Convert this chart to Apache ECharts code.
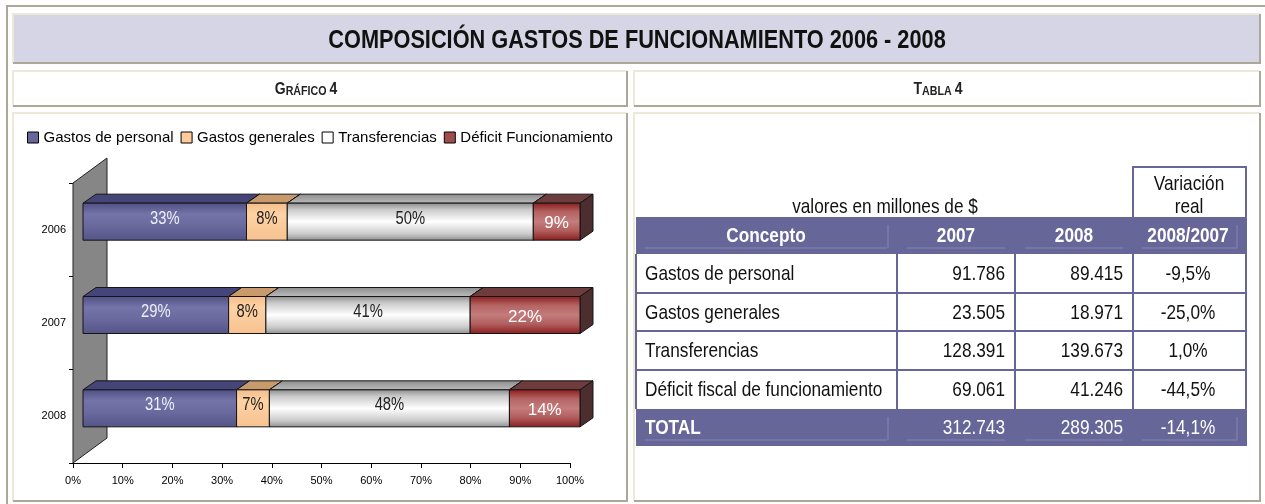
<!DOCTYPE html>
<html>
<head>
<meta charset="utf-8">
<title>Composición gastos de funcionamiento 2006 - 2008</title>
<script src="https://cdn.jsdelivr.net/npm/echarts@6.0.0/dist/echarts.min.js"></script>
<style>
  html, body { margin: 0; padding: 0; background: #fff; }
  #main { width: 1265px; height: 504px; }
</style>
</head>
<body>
<div id="main"></div>
<script>
// Gráfico 4: participación (%) de cada concepto por año
const years = ['2006', '2007', '2008']
const personal = [32.9, 29.3, 30.9]
const generales = [8.2, 7.5, 6.6]
const transferencias = [49.5, 41.1, 48.3]
const deficit = [9.4, 22.1, 14.2]
const seriesNames = ['Gastos de personal', 'Gastos generales', 'Transferencias', 'Déficit Funcionamiento']

// Tabla 4: valores en millones de $
const conceptos = ['Gastos de personal', 'Gastos generales', 'Transferencias', 'Déficit fiscal de funcionamiento']
const valores2007 = [91786, 23505, 128391, 69061]
const valores2008 = [89415, 18971, 139673, 41246]
const variacion = [-9.5, -25.0, 1.0, -44.5]
const total2007 = 312743
const total2008 = 289305
const totalVariacion = -14.1

// no hay Arial Narrow: se usa Liberation Sans comprimida horizontalmente
const SANS = "'Liberation Sans', Arial, sans-serif"
const NARROW_SCALE = 0.82
const PURPLE = '#666699'

const shares = [personal, generales, transferencias, deficit]

function grad(stops) {
  return new echarts.graphic.LinearGradient(0, 0, 0, 1, stops.map(c => ({ offset: c[0], color: c[1] })))
}

const looks = [
  {
    legend: '#666699',
    front: [[0, '#4f4f84'], [0.3, '#7474a8'], [0.6, '#6a6a9e'], [1, '#545487']],
    top: '#45457a', side: '#3a3a60', label: '#eeeefa', narrow: true, size: 18, dy: -3
  },
  {
    legend: '#ffcc99',
    front: [[0, '#f2bd8a'], [0.3, '#ffd2a4'], [1, '#f6c290']],
    top: '#c89a6c', side: '#a87c55', label: '#222', narrow: true, size: 18, dy: -3
  },
  {
    legend: '#ffffff',
    front: [[0, '#8a8a8a'], [0.18, '#c9c9c9'], [0.5, '#ffffff'], [0.82, '#cbcbcb'], [1, '#8e8e8e']],
    top: grad([[0, '#8c8c8c'], [1, '#bcbcbc']]), side: '#777', label: '#222', narrow: true, size: 18, dy: -3
  },
  {
    legend: '#a04c4c',
    front: [[0, '#8a1c1c'], [0.25, '#b56464'], [0.5, '#c47c7c'], [0.75, '#b05c5c'], [1, '#8a1c1c']],
    top: '#6e3c3c', side: '#4d2e2e', label: '#ffffff', narrow: false, size: 17, dy: 2
  }
]

// desplazamientos de la perspectiva 3D
const DX = 10, DY = -8, BAR_H = 37, DEPTH_X = 13, DEPTH_Y = -9

function renderSegment(params, api) {
  const si = params.seriesIndex
  const cat = api.value(1)
  const v = api.value(0)
  let start = 0
  for (let k = 0; k < si; k++) start += shares[k][cat]
  const a = api.coord([start, cat])
  const b = api.coord([start + v, cat])
  const x0 = a[0] + DX
  const x1 = b[0] + DX
  const yc = a[1] + DY
  const yt = yc - BAR_H / 2
  const yb = yc + BAR_H / 2
  const lk = looks[si]
  const edge = { stroke: '#151515', lineWidth: 1 }
  return {
    type: 'group',
    children: [
      {
        type: 'polygon',
        shape: { points: [[x0, yt], [x0 + DEPTH_X, yt + DEPTH_Y], [x1 + DEPTH_X, yt + DEPTH_Y], [x1, yt]] },
        style: Object.assign({ fill: lk.top }, edge)
      },
      {
        type: 'polygon',
        shape: { points: [[x1, yt], [x1 + DEPTH_X, yt + DEPTH_Y], [x1 + DEPTH_X, yb + DEPTH_Y], [x1, yb]] },
        style: Object.assign({ fill: lk.side }, edge)
      },
      {
        type: 'rect',
        shape: { x: x0, y: yt, width: x1 - x0, height: BAR_H },
        style: Object.assign({ fill: grad(lk.front) }, edge)
      },
      {
        type: 'text',
        x: (x0 + x1) / 2,
        y: yc + lk.dy,
        scaleX: lk.narrow ? NARROW_SCALE : 1,
        style: {
          text: Math.round(v) + '%',
          x: 0,
          y: 0,
          align: 'center',
          verticalAlign: 'middle',
          fill: lk.label,
          fontFamily: SANS,
          fontSize: lk.size
        }
      }
    ]
  }
}

function miles(n) {
  return String(n).replace(/\B(?=(\d{3})+(?!\d))/g, '.')
}
function pct(v) {
  return v.toFixed(1).replace('.', ',') + '%'
}

// cajas con borde en relieve
function caja(x, y, w, h, fill) {
  const els = []
  if (fill) els.push({ type: 'rect', z: 0, shape: { x: x, y: y, width: w, height: h }, style: { fill: fill } })
  els.push({ type: 'polyline', z: 1, shape: { points: [[x, y + h], [x, y], [x + w, y]] }, style: { stroke: '#ece9d8', lineWidth: 2, fill: null } })
  els.push({ type: 'polyline', z: 1, shape: { points: [[x + w, y], [x + w, y + h], [x, y + h]] }, style: { stroke: '#aca899', lineWidth: 2, fill: null } })
  return els
}

function texto(str, x, y, opts) {
  return {
    type: 'text',
    z: 5,
    x: x,
    y: y,
    scaleX: NARROW_SCALE,
    style: Object.assign({
      text: str, x: 0, y: 0,
      align: 'left', verticalAlign: 'middle',
      fill: '#111', fontFamily: SANS, fontSize: 21
    }, opts || {})
  }
}

function linea(x1, y1, x2, y2, color, w) {
  return { type: 'line', z: 4, shape: { x1: x1, y1: y1, x2: x2, y2: y2 }, style: { stroke: color, lineWidth: w } }
}

const graphics = []
// marco exterior
graphics.push({ type: 'polyline', z: 1, shape: { points: [[7, 504], [7, 6], [1265, 6]] }, style: { stroke: '#aca899', lineWidth: 2, fill: null } })
graphics.push(...caja(13, 14, 1247, 49, '#d5d5e5'))
graphics.push(...caja(13, 71, 614, 35, null))
graphics.push(...caja(634, 71, 626, 35, null))
graphics.push(...caja(13, 113, 614, 388, null))
graphics.push(...caja(634, 113, 626, 388, null))

graphics.push(texto('COMPOSICIÓN GASTOS DE FUNCIONAMIENTO 2006 - 2008', 637, 41, {
  align: 'center', fontWeight: 'bold', fontSize: 26.5, fill: '#111'
}))
const smallCaps = {
  b: { fontFamily: SANS, fontWeight: 'bold', fontSize: 17, lineHeight: 17, verticalAlign: 'bottom', fill: '#222' },
  s: { fontFamily: SANS, fontWeight: 'bold', fontSize: 13, lineHeight: 13, verticalAlign: 'bottom', fill: '#222' }
}
graphics.push(texto('{b|G}{s|RÁFICO }{b|4}', 306, 89, { rich: smallCaps, align: 'center', fontSize: 17 }))
graphics.push(texto('{b|T}{s|ABLA }{b|4}', 938, 89, { rich: smallCaps, align: 'center', fontSize: 17 }))

// pared gris del fondo del gráfico 3D
graphics.push({
  type: 'polygon', z: 1,
  shape: { points: [[73, 183], [107, 158], [107, 438], [73, 463]] },
  style: { fill: '#868686', stroke: '#222', lineWidth: 1 }
})

// ---- Tabla 4 ----
const colX = [636, 897, 1015, 1133, 1246]
const rowY = [254, 293, 331, 370, 409]
const headTop = 217
const totTop = 409
const rowH = 37

graphics.push({ type: 'rect', z: 2, shape: { x: 636, y: headTop, width: 611, height: rowH }, style: { fill: PURPLE } })
graphics.push({ type: 'rect', z: 2, shape: { x: 636, y: totTop, width: 611, height: rowH }, style: { fill: PURPLE } })
for (let i = 1; i < rowY.length - 1; i++) graphics.push(linea(636, rowY[i], 1247, rowY[i], PURPLE, 2))
colX.forEach(x => graphics.push(linea(x, rowY[0], x, rowY[rowY.length - 1], PURPLE, 2)))
graphics.push({ type: 'polyline', z: 4, shape: { points: [[1133, 217], [1133, 167], [1246, 167], [1246, 217]] }, style: { stroke: PURPLE, lineWidth: 2, fill: null } })

// líneas claras dentro de las filas moradas
;[headTop, totTop].forEach(t => {
  const c = '#8686b2'
  graphics.push(linea(888, t + 8, 888, t + 31, c, 1))
  graphics.push(linea(645, t + 31, 887, t + 31, c, 1))
  graphics.push(linea(907, t + 31, 1005, t + 31, c, 1))
  graphics.push(linea(1025, t + 31, 1123, t + 31, c, 1))
  graphics.push(linea(1142, t + 31, 1237, t + 31, c, 1))
  graphics.push(linea(1237, t + 8, 1237, t + 31, c, 1))
})

graphics.push(texto('Variación', 1189, 184, { align: 'center' }))
graphics.push(texto('real', 1189, 207, { align: 'center' }))
graphics.push(texto('valores en millones de $', 885, 207, { align: 'center' }))

const hy = headTop + rowH / 2 + 1
graphics.push(texto('Concepto', 766, hy, { align: 'center', fill: '#fff', fontWeight: 'bold' }))
graphics.push(texto('2007', 956, hy, { align: 'center', fill: '#fff', fontWeight: 'bold' }))
graphics.push(texto('2008', 1074, hy, { align: 'center', fill: '#fff', fontWeight: 'bold' }))
graphics.push(texto('2008/2007', 1188, hy, { align: 'center', fill: '#fff', fontWeight: 'bold' }))

conceptos.forEach((c, i) => {
  const y = (rowY[i] + rowY[i + 1]) / 2 + 1
  graphics.push(texto(c, 645, y))
  graphics.push(texto(miles(valores2007[i]), 1005, y, { align: 'right' }))
  graphics.push(texto(miles(valores2008[i]), 1123, y, { align: 'right' }))
  graphics.push(texto(pct(variacion[i]), 1188, y, { align: 'center' }))
})
const ty = totTop + rowH / 2 + 1
graphics.push(texto('TOTAL', 645, ty, { fill: '#fff', fontWeight: 'bold' }))
graphics.push(texto(miles(total2007), 1005, ty, { align: 'right', fill: '#fff' }))
graphics.push(texto(miles(total2008), 1123, ty, { align: 'right', fill: '#fff' }))
graphics.push(texto(pct(totalVariacion), 1188, ty, { align: 'center', fill: '#fff' }))

const chart = echarts.init(document.getElementById('main'), null, { renderer: 'canvas' })
chart.setOption({
  backgroundColor: '#fff',
  animation: false,
  legend: {
    left: 27,
    top: 130,
    icon: 'rect',
    itemWidth: 11,
    itemHeight: 11,
    itemGap: 7,
    padding: 0,
    selectedMode: false,
    itemStyle: { borderColor: '#000', borderWidth: 1 },
    textStyle: { fontFamily: SANS, fontSize: 15, color: '#000' },
    data: seriesNames.map((n, i) => ({ name: n, itemStyle: { color: looks[i].legend } }))
  },
  grid: { left: 73, top: 183, width: 497, height: 280, containLabel: false },
  xAxis: {
    type: 'value',
    min: 0,
    max: 100,
    interval: 10,
    axisLine: { show: true, lineStyle: { color: '#000', width: 1 } },
    axisTick: { show: true, length: 5, lineStyle: { color: '#000' } },
    splitLine: { show: false },
    axisLabel: { formatter: '{value}%', fontFamily: SANS, fontSize: 11, color: '#000', margin: 12 }
  },
  yAxis: {
    type: 'category',
    inverse: true,
    data: years,
    axisLine: { show: true, lineStyle: { color: '#000', width: 1 } },
    axisTick: { show: true, length: 4, lineStyle: { color: '#000' } },
    axisLabel: { fontFamily: SANS, fontSize: 11, color: '#000', margin: 7 }
  },
  graphic: { elements: graphics },
  series: shares.map((arr, si) => ({
    name: seriesNames[si],
    type: 'custom',
    z: 3,
    clip: false,
    itemStyle: { color: looks[si].legend },
    renderItem: renderSegment,
    encode: { x: 0, y: 1 },
    data: arr.map((v, i) => [v, i])
  }))
})
</script>
</body>
</html>
